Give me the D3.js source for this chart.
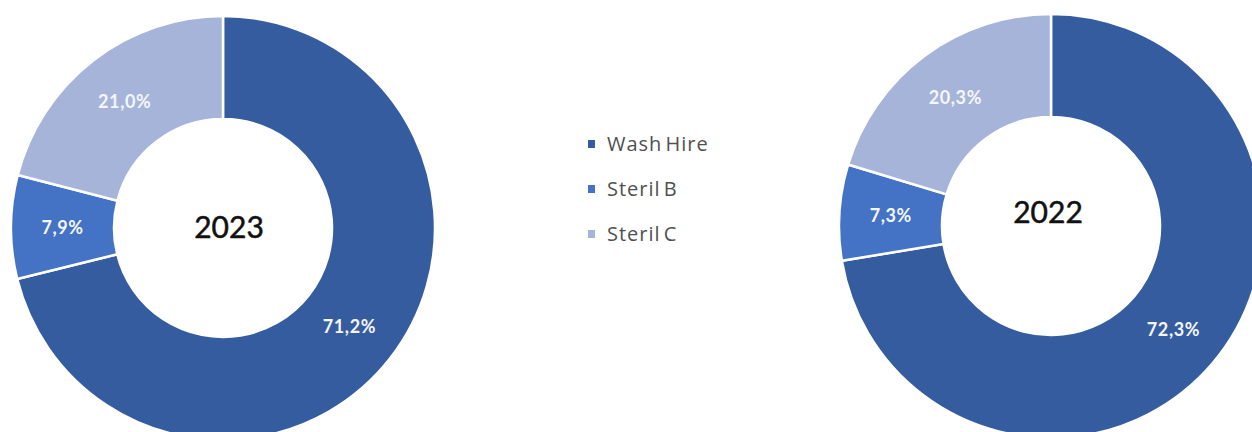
<!DOCTYPE html>
<html>
<head>
<meta charset="utf-8">
<script src="https://cdn.jsdelivr.net/npm/d3@7"></script>
<style>
  body { margin: 0; background: #fff; }
  svg { display: block; }
</style>
</head>
<body>
<script>
// Data
const categories = ['Wash Hire', 'Steril B', 'Steril C'];
const years = ['2023', '2022'];
const values2023 = [71.2, 7.9, 21.0];
const values2022 = [72.3, 7.3, 20.3];

const colors = ['#365ca0', '#4472c4', '#a6b4da'];

const width = 1252;
const height = 432;

const svg = d3.select('body')
  .append('svg')
  .attr('width', width)
  .attr('height', height);

const outerR = 212;
const innerR = 109;

// each donut: centre and where the year label sits
const donuts = [
  { year: years[0], values: values2023, cx: 223, cy: 228, labelX: 229, labelY: 227 },
  { year: years[1], values: values2022, cx: 1051, cy: 226, labelX: 1048, labelY: 212 }
];

const pie = d3.pie().sort(null).value(d => d.value);
const arc = d3.arc().innerRadius(innerR).outerRadius(outerR);
const fmt = v => d3.format('.1f')(v).replace('.', ',') + '%';

donuts.forEach(dn => {
  const g = svg.append('g')
    .attr('transform', `translate(${dn.cx},${dn.cy})`);

  const slices = pie(categories.map((c, i) => ({ cat: c, value: dn.values[i], i })));

  g.selectAll('path')
    .data(slices)
    .enter()
    .append('path')
    .attr('d', arc)
    .attr('fill', d => colors[d.data.i])
    .attr('stroke', '#fff')
    .attr('stroke-width', 2.5);

  g.selectAll('.pct')
    .data(slices)
    .enter()
    .append('text')
    .attr('class', 'pct')
    .attr('transform', d => `translate(${arc.centroid(d)})`)
    .attr('text-anchor', 'middle')
    .attr('dy', '0.36em')
    .attr('fill', '#f4f6fb')
    .style('font-family', 'Lato, "Open Sans", sans-serif')
    .style('font-weight', 'bold')
    .style('font-size', '18px')
    .style('letter-spacing', '0.6px')
    .text(d => fmt(d.data.value));

  // year in the hole
  svg.append('text')
    .attr('x', dn.labelX)
    .attr('y', dn.labelY)
    .attr('text-anchor', 'middle')
    .attr('dy', '0.36em')
    .attr('fill', '#111')
    .attr('stroke', '#111')
    .attr('stroke-width', 0.5)
    .style('font-family', 'Lato, "Open Sans", sans-serif')
    .style('font-size', '30px')
    .text(dn.year);
});

// Legend in the middle
const legend = svg.append('g')
  .attr('transform', 'translate(588,144)');

const items = legend.selectAll('.legend-item')
  .data(categories)
  .enter()
  .append('g')
  .attr('class', 'legend-item')
  .attr('transform', (d, i) => `translate(0,${i * 45})`);

items.append('rect')
  .attr('x', 0)
  .attr('y', -4)
  .attr('width', 7)
  .attr('height', 8)
  .attr('fill', (d, i) => colors[i]);

items.append('text')
  .attr('x', 19)
  .attr('y', 0)
  .attr('dy', '0.35em')
  .attr('fill', '#505050')
  .style('font-family', '"Open Sans", sans-serif')
  .style('font-size', '20px')
  .style('letter-spacing', '1px')
  .style('word-spacing', '-3px')
  .text(d => d);
</script>
</body>
</html>
